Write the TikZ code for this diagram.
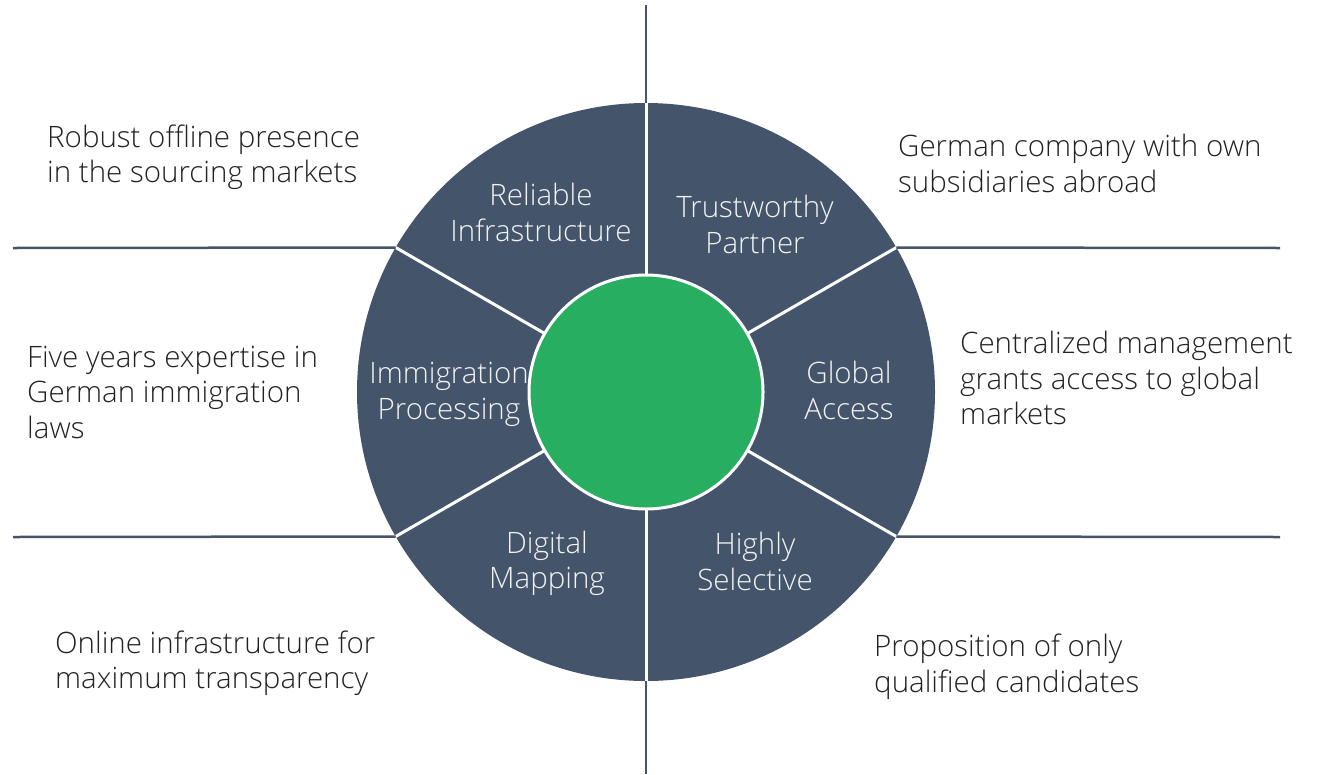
\documentclass[tikz,border=0pt]{standalone}
\usepackage{fontspec}
\setmainfont{Open Sans}[UprightFont=* Light]
\definecolor{slate}{HTML}{44546A}
\definecolor{leaf}{HTML}{27AE60}
\definecolor{ink}{HTML}{222222}
\definecolor{pale}{HTML}{F2F2F2}
\begin{document}
\begin{tikzpicture}[x=1pt,y=-1pt,
  outtext/.style={anchor=west,align=left,inner sep=0pt,text=ink,font=\fontsize{29.5}{35.5}\selectfont},
  intext/.style={anchor=center,align=center,inner sep=0pt,text=pale,font=\fontsize{29.5}{35.5}\selectfont},
  divider/.style={draw=white,line width=3pt},
  axisline/.style={draw=slate,line width=2.5pt}]
\useasboundingbox (0,0) rectangle (1325,774);
\coordinate (C) at (646,392);
\fill[slate] (C) circle (289);
\coordinate (P30) at (896.3,247.5);
\coordinate (P150) at (395.7,247.5);
\coordinate (P210) at (395.7,536.5);
\coordinate (P330) at (896.3,536.5);
\coordinate (P90) at (646,103);
\coordinate (P270) at (646,681);
\foreach \p in {P30,P150,P210,P330,P90,P270} \draw[divider] (C) -- (\p);
\node[circle,fill=leaf,draw=white,line width=3pt,minimum size=234pt,inner sep=0pt] (hub) at (C) {};
% outer lines
\coordinate (T) at (646,5);
\coordinate (B) at (646,774);
\coordinate (L1) at (13,248);
\coordinate (R1) at (1280,248);
\coordinate (L2) at (13,537);
\coordinate (R2) at (1280,537);
\draw[axisline] (P90) -- (T);
\draw[axisline] (P270) -- (B);
\draw[axisline] (P150) -- (L1);
\draw[axisline] (P30) -- (R1);
\draw[axisline] (P210) -- (L2);
\draw[axisline] (P330) -- (R2);
% inner labels
\node[intext] (rel) at (541,212.5) {Reliable\\Infrastructure};
\node[intext] (tru) at (755,224.5) {Trustworthy\\Partner};
\node[intext] (imm) at (449,394.5) {Immigration\\Processing};
\node[intext] (glo) at (849,390.5) {Global\\Access};
\node[intext] (dig) at (547,563.5) {Digital\\Mapping};
\node[intext] (hig) at (755,561.5) {Highly\\Selective};
% outer texts
\node[outtext] (t1) at (47,157.5) {Robust offline presence\\in the sourcing markets};
\node[outtext] (t2) at (27,392) {Five years expertise in\\German immigration\\laws};
\node[outtext] (t3) at (55,663) {Online infrastructure for\\maximum transparency};
\node[outtext] (t4) at (898,163.5) {German company with own\\subsidiaries abroad};
\node[outtext] (t5) at (960,378) {Centralized management\\grants access to global\\markets};
\node[outtext] (t6) at (874,666.5) {Proposition of only\\qualified candidates};
\end{tikzpicture}
\end{document}
